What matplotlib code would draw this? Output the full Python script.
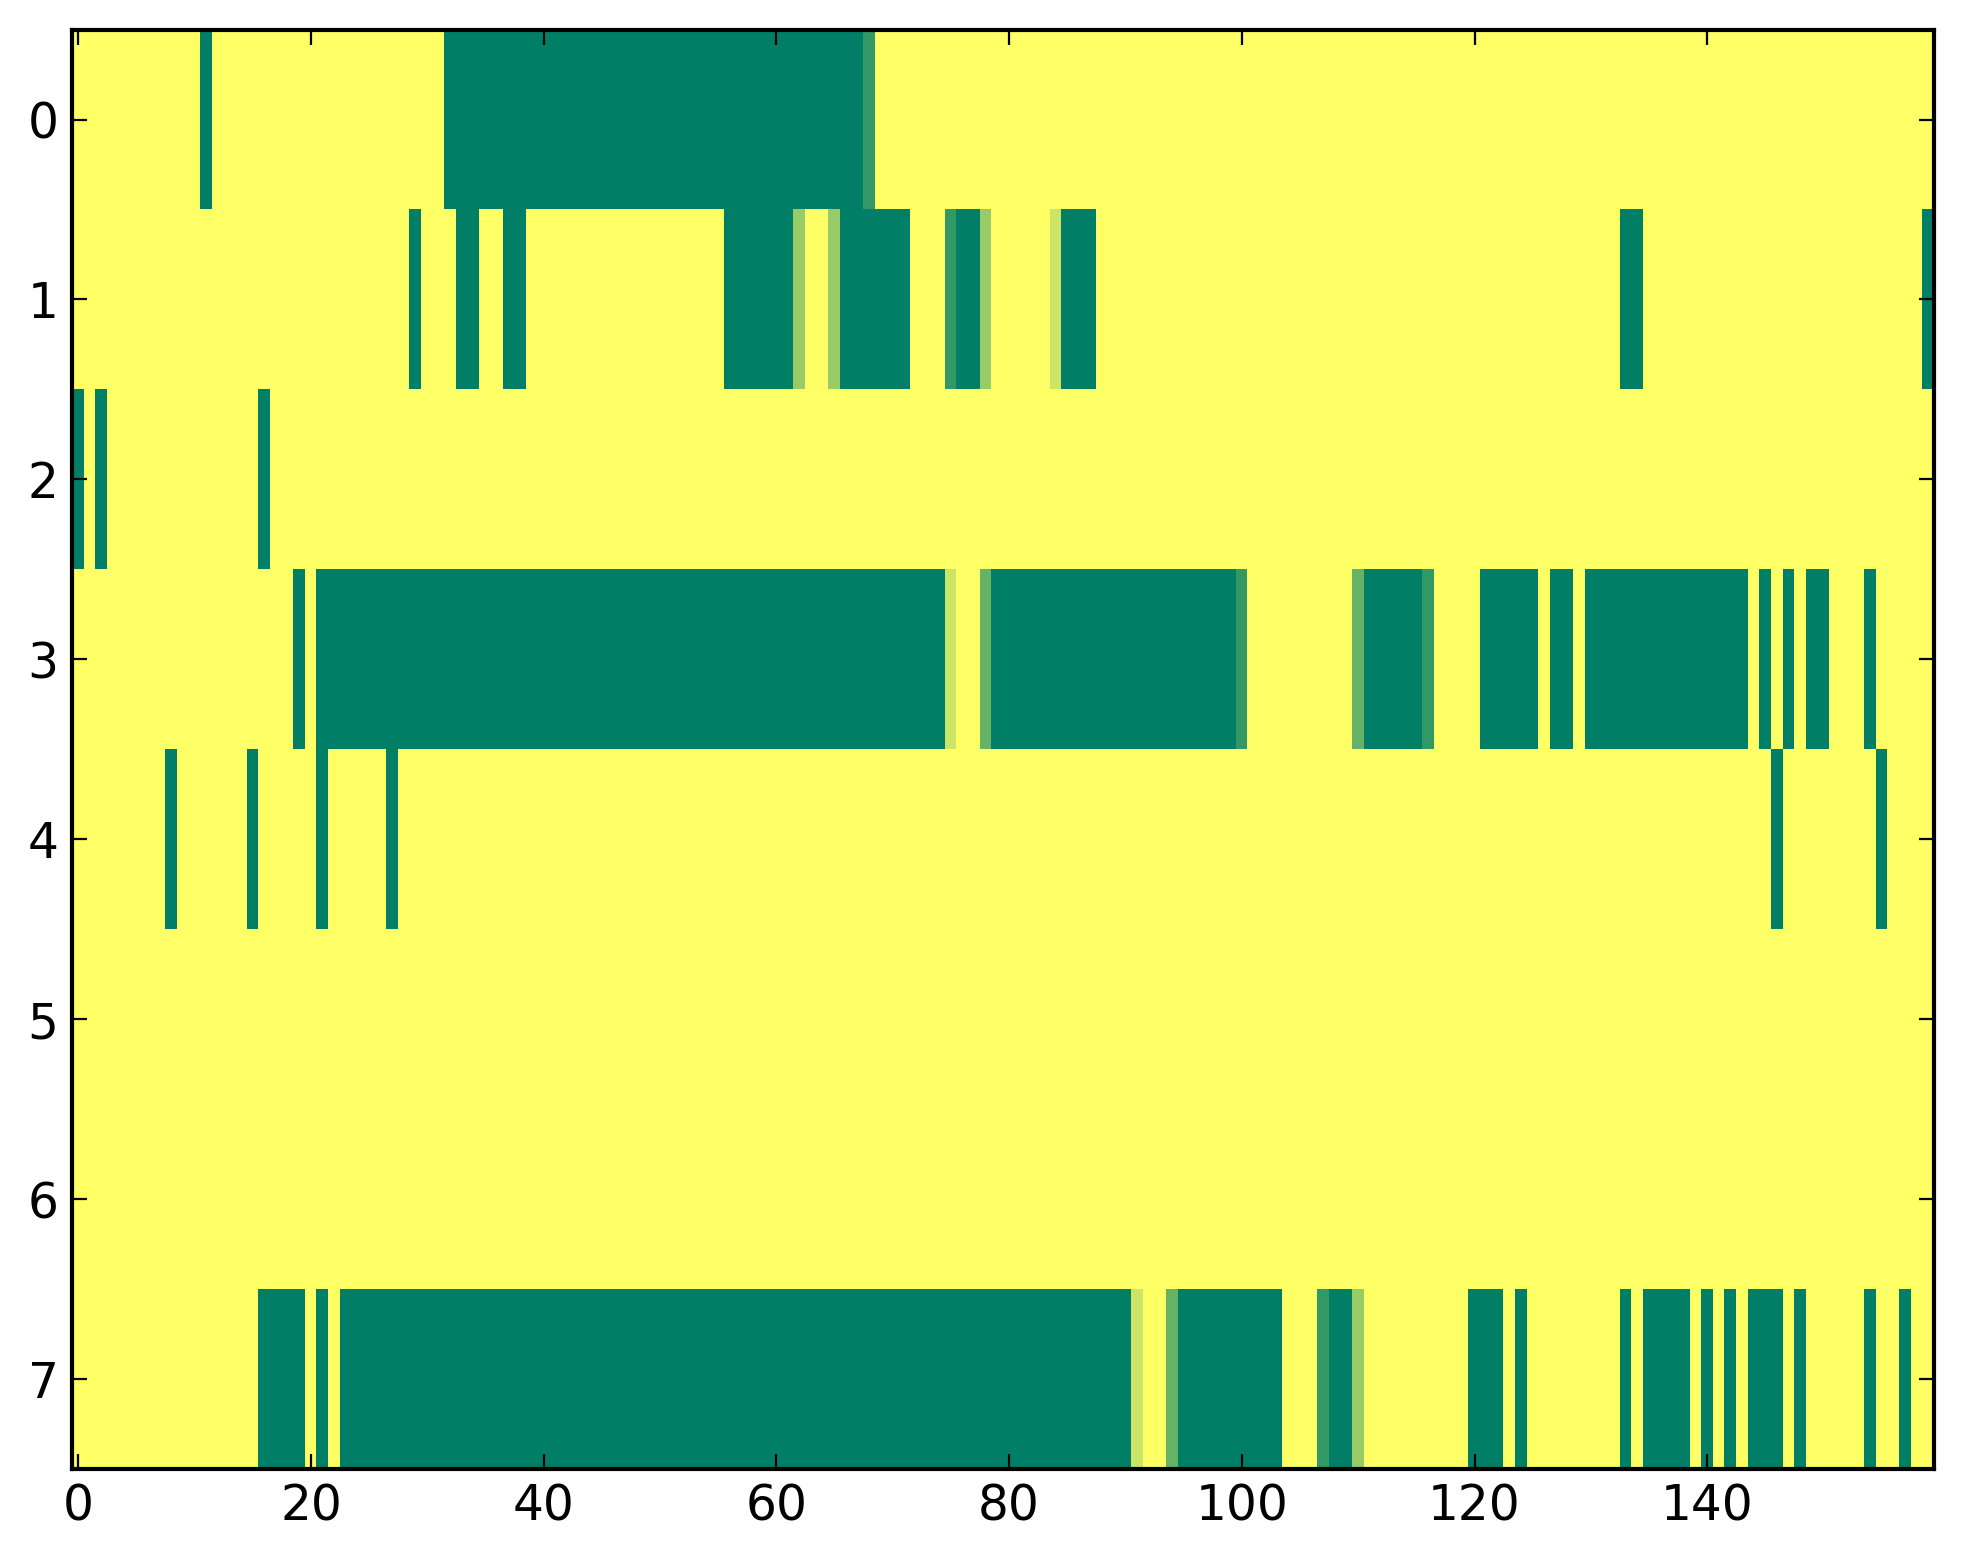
import numpy as np
import matplotlib
matplotlib.use("Agg")
import matplotlib.pyplot as plt

# data: (first col, last col, value) runs per row, everything else is 0
n_rows = 8
n_cols = 160

row0 = [(11, 11, 1.0), (32, 67, 1.0), (68, 68, 0.8)]
row1 = [(29, 29, 1.0), (33, 34, 1.0), (37, 38, 1.0), (56, 61, 1.0), (62, 62, 0.4),
        (65, 65, 0.4), (66, 71, 1.0), (75, 75, 0.8), (76, 77, 1.0), (78, 78, 0.4),
        (84, 84, 0.2), (85, 87, 1.0), (133, 134, 1.0), (159, 159, 1.0)]
row2 = [(0, 0, 1.0), (2, 2, 1.0), (16, 16, 1.0)]
row3 = [(19, 19, 1.0), (21, 74, 1.0), (75, 75, 0.2), (78, 78, 0.6), (79, 99, 1.0),
        (100, 100, 0.8), (110, 110, 0.6), (111, 115, 1.0), (116, 116, 0.8),
        (121, 125, 1.0), (127, 128, 1.0), (130, 143, 1.0), (145, 145, 1.0),
        (147, 147, 1.0), (149, 150, 1.0), (154, 154, 1.0)]
row4 = [(8, 8, 1.0), (15, 15, 1.0), (21, 21, 1.0), (27, 27, 1.0),
        (146, 146, 1.0), (155, 155, 1.0)]
row5 = []
row6 = []
row7 = [(16, 19, 1.0), (21, 21, 1.0), (23, 90, 1.0), (91, 91, 0.2), (94, 94, 0.6),
        (95, 103, 1.0), (107, 107, 0.8), (108, 109, 1.0), (110, 110, 0.4),
        (120, 122, 1.0), (124, 124, 1.0), (133, 133, 1.0), (135, 138, 1.0),
        (140, 140, 1.0), (142, 142, 1.0), (144, 146, 1.0), (148, 148, 1.0),
        (154, 154, 1.0), (157, 157, 1.0)]

rows = [row0, row1, row2, row3, row4, row5, row6, row7]

grid = np.zeros((n_rows, n_cols))
for i, runs in enumerate(rows):
    for a, b, v in runs:
        grid[i, a:b + 1] = v

plt.rcParams['font.family'] = 'DejaVu Sans'
fig = plt.figure(figsize=(9.815, 7.82), dpi=200)
ax = fig.add_axes([0.0369, 0.0607, 0.9484, 0.9204])
ax.imshow(grid, cmap='summer_r', vmin=0, vmax=1, aspect='auto',
          interpolation='nearest')

ax.set_xticks(np.arange(0, 141, 20))
ax.set_yticks(np.arange(0, 8))
ax.tick_params(direction='in', length=5.5, width=0.8, top=True, right=True,
               labelsize=17.5, pad=5)
for s in ax.spines.values():
    s.set_linewidth(1.5)

fig.savefig('out.png', dpi=200, facecolor='white')
